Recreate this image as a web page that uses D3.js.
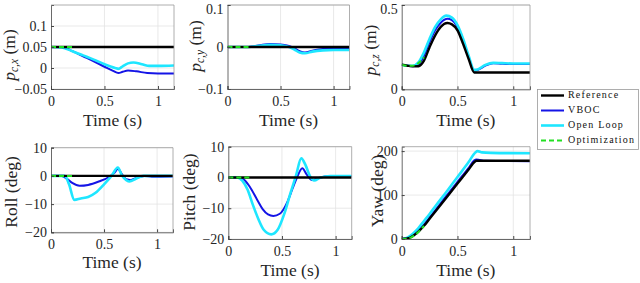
<!DOCTYPE html>
<html>
<head>
<meta charset="utf-8">
<script src="https://cdn.jsdelivr.net/npm/d3@7"></script>
<style>
  body { margin: 0; background: #fff; }
</style>
</head>
<body>
<div class="chart"></div>
<script>
// ---- data: [time (s), value] ----
const seriesNames = ["Reference", "VBOC", "Open Loop", "Optimization"];
const xTicks = [0, 0.5, 1];

// p_c,x (m)
const pcxRef = [[0, 0.05], [1.15, 0.05]];
const pcxVboc = [[0, 0.05], [0.1, 0.05], [0.2, 0.04], [0.3, 0.028], [0.4, 0.016], [0.5, 0.003], [0.58, -0.007], [0.63, -0.012], [0.67, -0.009], [0.72, -0.006], [0.8, -0.008], [0.9, -0.012], [1.0, -0.013], [1.15, -0.013]];
const pcxOpen = [[0, 0.05], [0.1, 0.049], [0.2, 0.04], [0.3, 0.03], [0.4, 0.02], [0.5, 0.009], [0.6, 0.0], [0.63, -0.002], [0.67, 0.004], [0.72, 0.011], [0.77, 0.013], [0.85, 0.009], [0.92, 0.005], [1.0, 0.005], [1.15, 0.006]];
const pcxOpt = [[0, 0.05], [0.21, 0.05]];
const pcxTicks = [-0.05, 0, 0.05, 0.1];

// p_c,y (m)
const pcyRef = [[0, 0], [1.15, 0]];
const pcyVboc = [[0, 0], [0.2, 0], [0.25, 0.002], [0.32, 0.005], [0.4, 0.007], [0.5, 0.006], [0.57, 0.003], [0.63, -0.003], [0.68, -0.01], [0.73, -0.013], [0.8, -0.009], [0.9, -0.005], [1.0, -0.004], [1.15, -0.004]];
const pcyOpen = [[0, 0], [0.2, 0], [0.3, 0.003], [0.4, 0.005], [0.5, 0.004], [0.58, 0.0], [0.63, -0.006], [0.68, -0.013], [0.73, -0.015], [0.8, -0.011], [0.9, -0.008], [1.0, -0.007], [1.15, -0.007]];
const pcyOpt = [[0, 0], [0.21, 0]];
const pcyTicks = [-0.1, 0, 0.1];

// p_c,z (m)
const pczRef = [[0, 0.146], [0.05, 0.14], [0.1, 0.136], [0.15, 0.137], [0.2, 0.17], [0.25, 0.25], [0.3, 0.32], [0.35, 0.37], [0.41, 0.393], [0.45, 0.385], [0.5, 0.35], [0.55, 0.27], [0.6, 0.18], [0.65, 0.1], [0.7, 0.1], [1.15, 0.1]];
const pczVboc = [[0, 0.146], [0.05, 0.14], [0.1, 0.137], [0.15, 0.145], [0.2, 0.2], [0.25, 0.28], [0.3, 0.35], [0.35, 0.395], [0.41, 0.418], [0.45, 0.41], [0.5, 0.37], [0.55, 0.29], [0.6, 0.19], [0.65, 0.112], [0.68, 0.115], [0.75, 0.14], [0.82, 0.155], [0.9, 0.152], [1.0, 0.15], [1.15, 0.15]];
const pczOpen = [[0, 0.146], [0.05, 0.14], [0.1, 0.14], [0.15, 0.16], [0.2, 0.22], [0.25, 0.3], [0.3, 0.37], [0.35, 0.415], [0.4, 0.437], [0.45, 0.425], [0.5, 0.38], [0.55, 0.3], [0.6, 0.2], [0.65, 0.115], [0.68, 0.118], [0.75, 0.145], [0.82, 0.157], [0.9, 0.155], [1.0, 0.153], [1.15, 0.153]];
const pczOpt = [[0, 0.146], [0.05, 0.14], [0.1, 0.14], [0.15, 0.155], [0.2, 0.19]];
const pczTicks = [0, 0.5];

// Roll (deg)
const rollRef = [[0, 0], [1.15, 0]];
const rollVboc = [[0, 0], [0.1, 0], [0.15, -1], [0.2, -2.5], [0.27, -3.5], [0.35, -3.2], [0.45, -2], [0.55, -0.3], [0.6, 1.2], [0.63, 2.5], [0.67, 0.5], [0.71, -1.2], [0.75, -1.5], [0.8, -0.8], [0.88, 0], [0.95, -0.3], [1.15, -0.2]];
const rollOpen = [[0, 0], [0.13, 0], [0.17, -3], [0.22, -8.5], [0.28, -8], [0.35, -7.5], [0.42, -6], [0.5, -3], [0.57, 0], [0.63, 3], [0.67, 0], [0.71, -1.5], [0.74, -2], [0.8, -1], [0.87, 0], [1.0, 0], [1.15, 0]];
const rollOpt = [[0, 0], [0.21, 0]];
const angTicks = [-20, -10, 0, 10];

// Pitch (deg)
const pitchRef = [[0, 0], [1.15, 0]];
const pitchVboc = [[0, 0], [0.1, 0], [0.15, -0.8], [0.2, -3], [0.27, -7.3], [0.32, -10.3], [0.37, -12], [0.42, -12.5], [0.48, -11.8], [0.55, -8], [0.6, -3.5], [0.64, 0], [0.69, 3], [0.73, 1], [0.78, -0.8], [0.82, -0.5], [0.9, 0.3], [1.0, 0.5], [1.15, 0.4]];
const pitchOpen = [[0, 0], [0.08, 0], [0.13, -1], [0.18, -4], [0.23, -9], [0.28, -13.5], [0.33, -17], [0.4, -18.5], [0.46, -17], [0.52, -12], [0.58, -5], [0.63, 0.5], [0.68, 6.2], [0.72, 4], [0.76, 0.5], [0.8, -1], [0.86, 0], [0.95, 0.5], [1.15, 0.5]];
const pitchOpt = [[0, 0], [0.21, 0]];

// Yaw (deg)
const yawRef = [[0, 0], [0.05, 1], [0.1, 7], [0.15, 17], [0.2, 30], [0.25, 46], [0.3, 62], [0.4, 94], [0.5, 126], [0.6, 158], [0.655, 176], [0.67, 178], [1.15, 178]];
const yawVboc = [[0, 0], [0.05, 1.5], [0.1, 8], [0.15, 19], [0.2, 33], [0.25, 49], [0.3, 65], [0.4, 98], [0.5, 130], [0.6, 162], [0.65, 179], [0.67, 181], [0.75, 178], [1.15, 177]];
const yawOpen = [[0, 0], [0.05, 3], [0.1, 12], [0.15, 25], [0.2, 41], [0.25, 57], [0.3, 74], [0.4, 107], [0.5, 141], [0.6, 175], [0.66, 197], [0.68, 200], [0.72, 197], [0.8, 196], [1.15, 195]];
const yawOpt = [[0, 0], [0.05, 1], [0.1, 6], [0.15, 16], [0.2, 30]];
const yawTicks = [0, 100, 200];

// ---- layout ----
const width = 640, height = 283;
const colors = { ref: "#000000", vboc: "#1414e6", open: "#1ee6ff", opt: "#22e022" };
const serif = "'Liberation Serif', 'Times New Roman', serif";

const panels = [
  { x0: 51, x1: 174, y0: 5, y1: 89, yDomain: [-0.05, 0.15], yTicks: pcxTicks,
    lbl: ["p", "c,x", " (m)"], lblX: 11, lblY: 55, xlOff: 33,
    data: [pcxVboc, pcxOpen, pcxRef, pcxOpt] },
  { x0: 227.5, x1: 349.5, y0: 5, y1: 89, yDomain: [-0.1, 0.1], yTicks: pcyTicks,
    lbl: ["p", "c,y", " (m)"], lblX: 197, lblY: 46, xlOff: 33,
    data: [pcyVboc, pcyOpen, pcyRef, pcyOpt] },
  { x0: 401.7, x1: 530, y0: 5, y1: 89.3, yDomain: [0, 0.5], yTicks: pczTicks,
    lbl: ["p", "c,z", " (m)"], lblX: 372, lblY: 50, xlOff: 33,
    data: [pczVboc, pczOpen, pczRef, pczOpt] },
  { x0: 51, x1: 173, y0: 147.7, y1: 232.3, yDomain: [-20, 10], yTicks: angTicks,
    lbl: ["Roll (deg)"], lblX: 13, lblY: 192, xlOff: 32,
    data: [rollVboc, rollOpen, rollRef, rollOpt] },
  { x0: 228.3, x1: 351.7, y0: 146.7, y1: 239, yDomain: [-20, 10], yTicks: angTicks,
    lbl: ["Pitch (deg)"], lblX: 191, lblY: 192, xlOff: 33,
    data: [pitchVboc, pitchOpen, pitchRef, pitchOpt] },
  { x0: 401.7, x1: 530, y0: 146.7, y1: 239, yDomain: [0, 210], yTicks: yawTicks,
    lbl: ["Yaw (deg)"], lblX: 379, lblY: 191, xlOff: 33,
    data: [yawVboc, yawOpen, yawRef, yawOpt] }
];

const lineStyles = [
  { color: colors.vboc, w: 2, dash: null },
  { color: colors.open, w: 2.6, dash: null },
  { color: colors.ref, w: 2.4, dash: null },
  { color: colors.opt, w: 2, dash: "5,3" }
];

const svg = d3.select(".chart").append("svg")
  .attr("width", width)
  .attr("height", height);

function serifText(sel, size) {
  return sel.style("font-family", serif)
    .style("font-size", size + "px")
    .style("font-weight", "400")
    .style("fill", "#262626");
}

panels.forEach((p, i) => {
  const x = d3.scaleLinear().domain([0, 1.15]).range([p.x0, p.x1]);
  const y = d3.scaleLinear().domain(p.yDomain).range([p.y1, p.y0]);
  const g = svg.append("g");

  g.append("clipPath").attr("id", "clip" + i)
    .append("rect")
    .attr("x", p.x0).attr("y", p.y0)
    .attr("width", p.x1 - p.x0).attr("height", p.y1 - p.y0);

  // grid
  g.selectAll(".vgrid").data(xTicks.filter(t => t > 0)).enter().append("line")
    .attr("x1", d => x(d)).attr("x2", d => x(d))
    .attr("y1", p.y0).attr("y2", p.y1)
    .attr("stroke", "#e3e3e3").attr("stroke-width", 0.8);
  g.selectAll(".hgrid").data(p.yTicks).enter().append("line")
    .attr("x1", p.x0).attr("x2", p.x1)
    .attr("y1", d => y(d)).attr("y2", d => y(d))
    .attr("stroke", "#e3e3e3").attr("stroke-width", 0.8);

  // series
  const line = d3.line()
    .x(d => x(d[0]))
    .y(d => y(d[1]))
    .curve(d3.curveMonotoneX);
  p.data.forEach((s, k) => {
    const st = lineStyles[k];
    g.append("path")
      .datum(s)
      .attr("clip-path", "url(#clip" + i + ")")
      .attr("fill", "none")
      .attr("stroke", st.color)
      .attr("stroke-width", st.w)
      .attr("stroke-dasharray", st.dash)
      .attr("d", line);
  });

  // box
  g.append("line").attr("x1", p.x0).attr("x2", p.x1).attr("y1", p.y0).attr("y2", p.y0)
    .attr("stroke", "#9a9a9a").attr("stroke-width", 0.8);
  g.append("line").attr("x1", p.x1).attr("x2", p.x1).attr("y1", p.y0).attr("y2", p.y1)
    .attr("stroke", "#9a9a9a").attr("stroke-width", 0.8);

  const xAxis = d3.axisBottom(x).tickValues(xTicks).tickSize(-3).tickFormat(d3.format("~g"));
  const yAxis = d3.axisLeft(y).tickValues(p.yTicks).tickSize(-3).tickFormat(d3.format("~g"));

  const gx = g.append("g")
    .attr("transform", "translate(0," + p.y1 + ")")
    .call(xAxis);
  gx.select(".domain").attr("stroke", "#444").attr("stroke-width", 0.8);
  gx.selectAll(".tick line").attr("stroke", "#444");
  serifText(gx.selectAll(".tick text"), 14)
    .attr("y", 7).attr("dy", "0.71em");

  const gy = g.append("g")
    .attr("transform", "translate(" + p.x0 + ",0)")
    .call(yAxis);
  gy.select(".domain").attr("stroke", "#444").attr("stroke-width", 0.8);
  gy.selectAll(".tick line").attr("stroke", "#444");
  serifText(gy.selectAll(".tick text"), 14)
    .attr("x", -4)
    // keep a label sitting on the top edge inside the page
    .attr("dy", d => (y(d) < 8 ? "0.62em" : "0.32em"));

  // x label
  serifText(g.append("text"), 17.5)
    .attr("x", (p.x0 + p.x1) / 2)
    .attr("y", p.y1 + p.xlOff)
    .attr("text-anchor", "middle")
    .attr("dominant-baseline", "middle")
    .text("Time (s)");

  // y label
  const yl = serifText(g.append("text"), 17.5)
    .attr("text-anchor", "middle")
    .attr("dominant-baseline", "middle")
    .attr("transform", "translate(" + p.lblX + "," + p.lblY + ") rotate(-90)");
  if (p.lbl.length === 3) {
    yl.append("tspan").style("font-style", "italic").text(p.lbl[0]);
    yl.append("tspan").style("font-style", "italic").style("font-size", "11.5px").attr("dy", 4).text(p.lbl[1]);
    yl.append("tspan").attr("dy", -4).text(p.lbl[2]);
  } else {
    yl.text(p.lbl[0]);
  }
});

// legend
const legend = svg.append("g");
legend.append("rect")
  .attr("x", 537.5).attr("y", 89.5)
  .attr("width", 101).attr("height", 60)
  .attr("fill", "#fff")
  .attr("stroke", "#9a9a9a").attr("stroke-width", 0.8);

const legendStyles = [lineStyles[2], lineStyles[0], lineStyles[1], lineStyles[3]];
legend.selectAll(".legend-line")
  .data(seriesNames)
  .enter()
  .append("line")
  .attr("x1", 541).attr("x2", 564)
  .attr("y1", (d, i) => 95.5 + i * 15)
  .attr("y2", (d, i) => 95.5 + i * 15)
  .attr("stroke", (d, i) => legendStyles[i].color)
  .attr("stroke-width", (d, i) => legendStyles[i].w)
  .attr("stroke-dasharray", (d, i) => legendStyles[i].dash);

serifText(legend.selectAll(".legend-text")
  .data(seriesNames)
  .enter()
  .append("text"), 10)
  .style("letter-spacing", "1.2px")
  .style("fill", "#111")
  .attr("x", 568)
  .attr("y", (d, i) => 95.5 + i * 15)
  .attr("dominant-baseline", "middle")
  .text(d => d);
</script>
</body>
</html>
